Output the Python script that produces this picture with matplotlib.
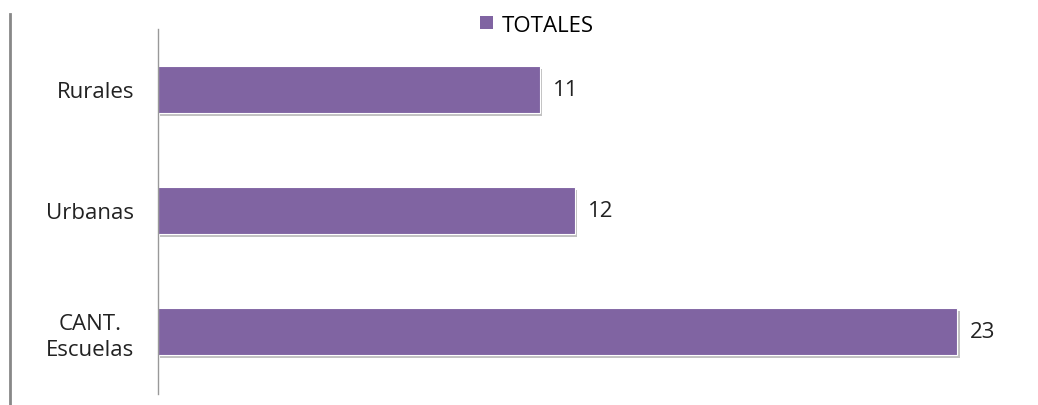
import matplotlib
matplotlib.use("Agg")
import matplotlib.pyplot as plt
import matplotlib.patheffects as pe
from matplotlib.lines import Line2D
from matplotlib.patches import Patch

categories = ["CANT.\nEscuelas", "Urbanas", "Rurales"]
values = [23, 12, 11]
series_name = "TOTALES"

color = "#8064A2"
plt.rcParams['font.family'] = ['Open Sans', 'DejaVu Sans']
fs = 16

fig = plt.figure(figsize=(10.38, 4.06), dpi=100)
ax = fig.add_axes([158/1038, 11/406, 869/1038, 365/406])

pos = list(range(len(categories)))
bars = ax.barh(pos, values, height=0.39, color=color, edgecolor='white', linewidth=0.8,
               path_effects=[pe.SimplePatchShadow(offset=(1.5, -2.5), shadow_rgbFace='#999999', alpha=0.6), pe.Normal()])

for p, v in zip(pos, values):
    ax.annotate(str(v), xy=(v, p), xytext=(9, 0), textcoords='offset points',
                va='center', ha='left', fontsize=fs, color='#222222')

ax.set_xlim(0, 25)
ax.set_ylim(-0.52, 2.5)
ax.set_yticks(pos)
ax.set_yticklabels(categories, fontsize=fs, color='#222222', linespacing=1.35,
                   multialignment='center')
ax.tick_params(axis='y', length=0, pad=17)
ax.set_xticks([])
for s in ['top', 'right', 'bottom']:
    ax.spines[s].set_visible(False)
ax.spines['left'].set_color('#999999')
ax.spines['left'].set_linewidth(1.0)

fig.legend(handles=[Patch(facecolor=color, label=series_name)], loc='center',
           bbox_to_anchor=(537/1038, 1 - 26/406), frameon=False, fontsize=fs,
           handlelength=0.55, handleheight=0.55, handletextpad=0.4)

fig.add_artist(Line2D([10/1038, 10/1038], [0, 1 - 15/406], transform=fig.transFigure,
                      color='#888888', linewidth=2))

fig.savefig("out.png", dpi=100)
